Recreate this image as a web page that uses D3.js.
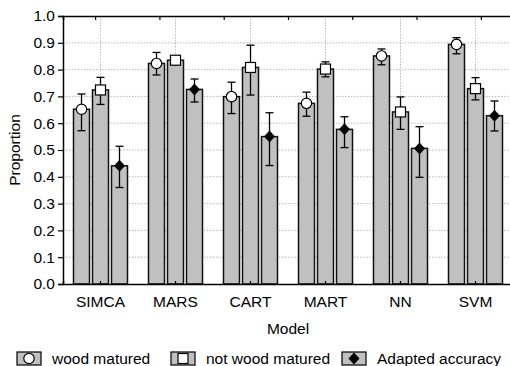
<!DOCTYPE html>
<html>
<head>
<meta charset="utf-8">
<script src="https://cdn.jsdelivr.net/npm/d3@7"></script>
<style>
  body { margin: 0; background: #fff; }
  text { font-family: "Liberation Sans", Arial, sans-serif; }
</style>
</head>
<body>
<div id="chart"></div>
<script>
let models = ["SIMCA", "MARS", "CART", "MART", "NN", "SVM"]
let series = ["wood matured", "not wood matured", "Adapted accuracy"]

// mean, lower, upper per model
let woodMean = [0.652, 0.823, 0.699, 0.674, 0.851, 0.894]
let woodLow = [0.572, 0.780, 0.636, 0.626, 0.818, 0.859]
let woodHigh = [0.709, 0.864, 0.753, 0.716, 0.877, 0.919]

let notWoodMean = [0.724, 0.835, 0.808, 0.802, 0.642, 0.729]
let notWoodLow = [0.670, 0.820, 0.705, 0.773, 0.577, 0.687]
let notWoodHigh = [0.771, 0.850, 0.891, 0.829, 0.698, 0.770]

let adaptMean = [0.441, 0.726, 0.550, 0.577, 0.506, 0.628]
let adaptLow = [0.360, 0.679, 0.442, 0.509, 0.398, 0.571]
let adaptHigh = [0.514, 0.765, 0.639, 0.624, 0.587, 0.683]

let yTicks = [0, 0.1, 0.2, 0.3, 0.4, 0.5, 0.6, 0.7, 0.8, 0.9, 1.0]
let topTicks = [0.5, 1.5, 2.5, 3.5, 4.5, 5.5, 6.5]

let width = 510, height = 366
let plotLeft = 63, plotRight = 513, plotTop = 16, plotBottom = 284
let fontSize = 15.5

let svg = d3.select("#chart").append("svg")
    .attr("width", width)
    .attr("height", height)

let x = d3.scaleBand().domain(models).range([plotLeft, plotRight])
let xSub = d3.scaleBand().domain(series).range([-27, 27]).paddingInner(3 / 19)
let y = d3.scaleLinear().domain([0, 1]).range([plotBottom, plotTop])
let xTop = d3.scaleLinear().domain([0, 7]).range([plotLeft, plotRight])

let rows = []
models.forEach((m, i) => {
    rows.push({ model: m, s: series[0], mean: woodMean[i], lo: woodLow[i], hi: woodHigh[i] })
    rows.push({ model: m, s: series[1], mean: notWoodMean[i], lo: notWoodLow[i], hi: notWoodHigh[i] })
    rows.push({ model: m, s: series[2], mean: adaptMean[i], lo: adaptLow[i], hi: adaptHigh[i] })
})

let cx = d => x(d.model) + x.bandwidth() / 2 + xSub(d.s) + xSub.bandwidth() / 2

// grid
svg.append("g").selectAll("line")
    .data(yTicks.slice(1, -1))
    .enter().append("line")
    .attr("x1", plotLeft).attr("x2", plotRight)
    .attr("y1", d => y(d)).attr("y2", d => y(d))
    .attr("stroke", "#b8b8b8")
    .attr("stroke-dasharray", "1.5,1.5")

svg.append("g").selectAll("line")
    .data(models)
    .enter().append("line")
    .attr("x1", d => x(d) + x.bandwidth() / 2).attr("x2", d => x(d) + x.bandwidth() / 2)
    .attr("y1", plotTop).attr("y2", plotBottom)
    .attr("stroke", "#b8b8b8")
    .attr("stroke-dasharray", "1.5,1.5")

// bars
svg.append("g").selectAll("rect")
    .data(rows)
    .enter().append("rect")
    .attr("x", d => cx(d) - xSub.bandwidth() / 2)
    .attr("width", xSub.bandwidth())
    .attr("y", d => y(d.mean))
    .attr("height", d => y(0) - y(d.mean))
    .attr("fill", "#c0c0c0")
    .attr("stroke", "#111")
    .attr("stroke-width", 1.5)

// error bars
let err = svg.append("g").attr("stroke", "#000").attr("stroke-width", 1.3)
err.selectAll(".v").data(rows).enter().append("line")
    .attr("x1", cx).attr("x2", cx)
    .attr("y1", d => y(d.lo)).attr("y2", d => y(d.hi))
err.selectAll(".t").data(rows).enter().append("line")
    .attr("x1", d => cx(d) - 4).attr("x2", d => cx(d) + 4)
    .attr("y1", d => y(d.hi)).attr("y2", d => y(d.hi))
err.selectAll(".b").data(rows).enter().append("line")
    .attr("x1", d => cx(d) - 4).attr("x2", d => cx(d) + 4)
    .attr("y1", d => y(d.lo)).attr("y2", d => y(d.lo))

// markers
function marker(g, s, px, py) {
    if (s === series[0]) {
        g.append("circle").attr("cx", px).attr("cy", py).attr("r", 5.2)
            .attr("fill", "#fff").attr("stroke", "#000").attr("stroke-width", 1.2)
    } else if (s === series[1]) {
        g.append("rect").attr("x", px - 5).attr("y", py - 5).attr("width", 10).attr("height", 10)
            .attr("fill", "#fff").attr("stroke", "#000").attr("stroke-width", 1.2)
    } else {
        g.append("path").attr("d", `M${px},${py - 6}L${px + 5.5},${py}L${px},${py + 6}L${px - 5.5},${py}Z`)
            .attr("fill", "#000")
    }
}
let mk = svg.append("g")
rows.forEach(d => marker(mk, d.s, cx(d), y(d.mean)))

// axes
svg.append("g")
    .attr("transform", `translate(${plotLeft},0)`)
    .call(d3.axisLeft(y).tickValues(yTicks).tickFormat(d3.format(".1f")).tickSize(5).tickPadding(3))
    .call(g => g.selectAll("text").attr("font-size", fontSize).attr("fill", "#000"))

svg.append("g")
    .attr("transform", `translate(${plotRight},0)`)
    .call(d3.axisLeft(y).tickValues(yTicks).tickSize(-4).tickFormat(""))

svg.append("g")
    .attr("transform", `translate(0,${plotBottom})`)
    .call(d3.axisBottom(x).tickSize(-3).tickPadding(12))
    .call(g => g.selectAll("text").attr("font-size", fontSize).attr("fill", "#000"))

svg.append("g")
    .attr("transform", `translate(0,${plotTop})`)
    .call(d3.axisTop(xTop).tickValues(topTicks).tickSize(-4).tickFormat(""))

svg.selectAll(".domain").attr("stroke", "#000").attr("stroke-width", 1.5)
svg.selectAll(".tick line").attr("stroke", "#000").attr("stroke-width", 1.2)

// axis titles
svg.append("text")
    .attr("transform", `translate(20,${(plotTop + plotBottom) / 2}) rotate(-90)`)
    .attr("text-anchor", "middle")
    .attr("font-size", fontSize)
    .text("Proportion")

svg.append("text")
    .attr("x", (plotLeft + plotRight) / 2)
    .attr("y", 334)
    .attr("text-anchor", "middle")
    .attr("font-size", fontSize)
    .text("Model")

// legend
let legendX = [17, 171, 342]
let lg = svg.append("g")
series.forEach((s, i) => {
    lg.append("rect")
        .attr("x", legendX[i]).attr("y", 352)
        .attr("width", 24).attr("height", 13)
        .attr("fill", "#c0c0c0").attr("stroke", "#000").attr("stroke-width", 1.2)
    marker(lg, s, legendX[i] + 12, 358.5)
    lg.append("text")
        .attr("x", legendX[i] + 35)
        .attr("y", 364)
        .attr("font-size", fontSize)
        .text(s)
})
</script>
</body>
</html>
